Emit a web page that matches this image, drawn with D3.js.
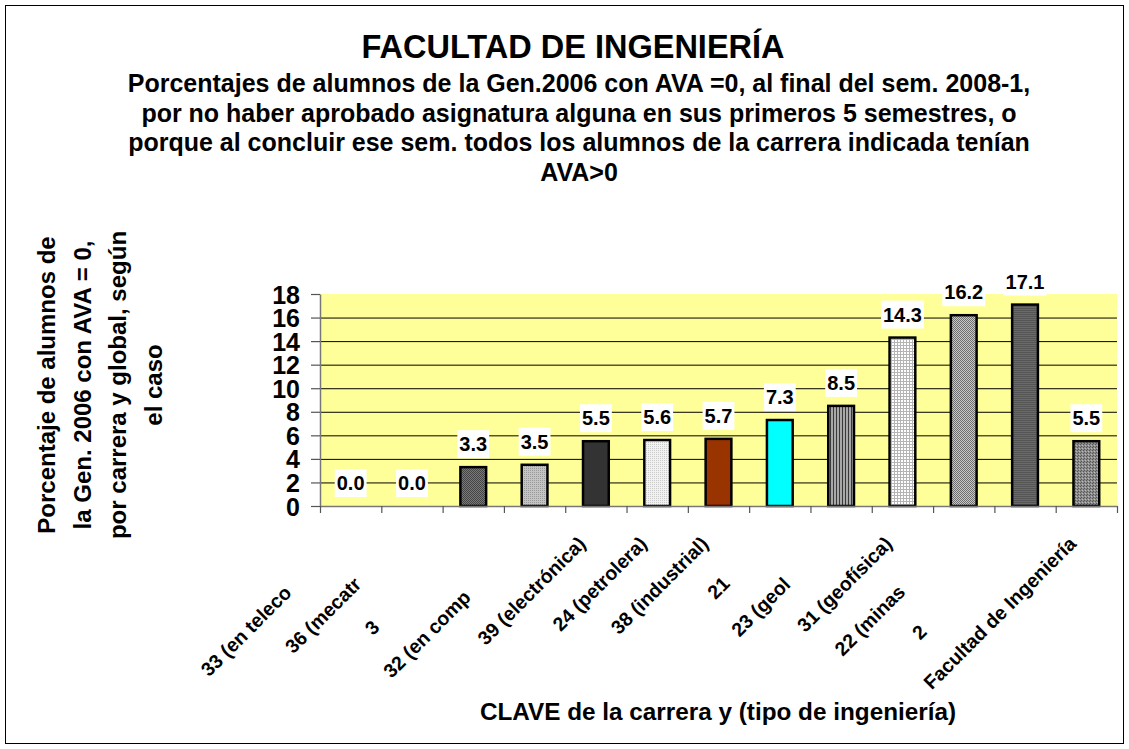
<!DOCTYPE html>
<html>
<head>
<meta charset="utf-8">
<script src="https://cdn.jsdelivr.net/npm/d3@7/dist/d3.min.js"></script>
<style>
body { margin: 0; background: #fff; }
svg { display: block; }
text { font-family: "Liberation Sans", Arial, sans-serif; font-weight: bold; fill: #000; }
</style>
</head>
<body>
<div id="chart"></div>
<script>
// full category labels (Excel clipped most of them, "shown" is what is visible)
var labels = ["33 (en telecomunic.)", "36 (mecatrónica)", "35 (mecánica)", "32 (en computación)",
  "39 (electrónica)", "24 (petrolera)", "38 (industrial)", "21 (civil)", "23 (geológica)",
  "31 (geofísica)", "22 (minas y met.)", "25 (geodésica)", "Facultad de Ingeniería"];
var shown = ["33 (en teleco", "36 (mecatr", "3", "32 (en comp",
  "39 (electrónica)", "24 (petrolera)", "38 (industrial)", "21", "23 (geol",
  "31 (geofísica)", "22 (minas", "2", "Facultad de Ingeniería"];
var values = [0.0, 0.0, 3.3, 3.5, 5.5, 5.6, 5.7, 7.3, 8.5, 14.3, 16.2, 17.1, 5.5];
var yTicks = [0, 2, 4, 6, 8, 10, 12, 14, 16, 18];
var titleLines = ["Porcentajes de alumnos de la Gen.2006 con AVA =0, al final del sem. 2008-1,",
  "por no haber aprobado asignatura alguna en sus primeros 5 semestres, o",
  "porque al concluir ese sem. todos los alumnos de la carrera indicada tenían",
  "AVA>0"];
var yTitleLines = ["Porcentaje de alumnos de", "la Gen. 2006 con AVA = 0,",
  "por carrera y global, según", "el caso"];

var barFills = ["#fff", "#fff", "url(#pDark)", "url(#pLight)", "#333333", "url(#pVLight)",
  "#993300", "#00ffff", "url(#pVert)", "url(#pGrid)", "url(#pCheck)", "url(#pHoriz)", "url(#pDots)"];

var W = 1129, H = 749;
var plot = {left: 320, right: 1117, top: 294, bottom: 506};

var svg = d3.select("#chart").append("svg")
  .attr("width", W).attr("height", H);

// patterns
var defs = svg.append("defs");
function pat(id, w, h, bg, cells) {
  var p = defs.append("pattern").attr("id", id)
    .attr("patternUnits", "userSpaceOnUse").attr("width", w).attr("height", h);
  p.append("rect").attr("width", w).attr("height", h).attr("fill", bg);
  cells.forEach(function(c) {
    p.append("rect").attr("x", c[0]).attr("y", c[1]).attr("width", c[2]).attr("height", c[3]).attr("fill", c[4]);
  });
}
pat("pDark", 2, 2, "#7a7a7a", [[0, 0, 1, 1, "#444"], [1, 1, 1, 1, "#444"]]);
pat("pLight", 2, 2, "#c4c4c4", [[0, 0, 1, 1, "#999"]]);
pat("pVLight", 2, 2, "#f2f2f2", [[0, 0, 1, 1, "#c8c8c8"]]);
pat("pVert", 3, 3, "#a8a8a8", [[2, 0, 1, 3, "#3a3a3a"]]);
pat("pGrid", 3, 3, "#ffffff", [[0, 0, 3, 1, "#b4b4b4"], [0, 0, 1, 3, "#b4b4b4"]]);
pat("pCheck", 2, 2, "#c8c8c8", [[0, 0, 1, 1, "#6e6e6e"], [1, 1, 1, 1, "#6e6e6e"]]);
pat("pHoriz", 2, 2, "#6a6a6a", [[0, 0, 2, 1, "#555"]]);
pat("pDots", 3, 3, "#8c8c8c", [[0, 0, 1, 1, "#555"], [1, 2, 1, 1, "#555"], [2, 1, 1, 1, "#bbb"]]);

// outer frame
svg.append("rect").attr("x", 5.5).attr("y", 5.5).attr("width", W - 11).attr("height", H - 11)
  .attr("fill", "none").attr("stroke", "#000").attr("stroke-width", 1);

var x = d3.scaleBand().domain(d3.range(values.length)).range([plot.left, plot.right]);
var xb = d3.scaleLinear().domain([0, values.length]).range([plot.left, plot.right]);
var y = d3.scaleLinear().domain([0, 18]).range([plot.bottom, plot.top]);

// plot area
svg.append("rect").attr("x", plot.left).attr("y", plot.top)
  .attr("width", plot.right - plot.left).attr("height", plot.bottom - plot.top)
  .attr("fill", "#ffff99");

// gridlines
svg.append("g").attr("transform", "translate(" + plot.left + ",0)")
  .call(d3.axisLeft(y).tickValues(yTicks.filter(function(d) { return d > 0 && d < 18; }))
    .tickSize(-(plot.right - plot.left)).tickFormat(""))
  .call(function(g) {
    g.select(".domain").remove();
    g.selectAll("text").remove();
    g.selectAll("line").attr("stroke", "#000").attr("stroke-width", 1);
  });

// bars
var bw = x.bandwidth() * 0.42;
svg.append("g").selectAll("rect").data(values).join("rect")
  .attr("x", function(d, i) { return x(i) + (x.bandwidth() - bw) / 2; })
  .attr("y", function(d) { return y(d); })
  .attr("width", bw)
  .attr("height", function(d) { return y(0) - y(d); })
  .attr("fill", function(d, i) { return barFills[i]; })
  .attr("stroke", "#000").attr("stroke-width", 2.5)
  .style("display", function(d) { return d > 0 ? null : "none"; });

// y axis
svg.append("g").attr("transform", "translate(" + plot.left + ",0)")
  .call(d3.axisLeft(y).tickValues(yTicks).tickSize(9).tickSizeOuter(0).tickPadding(11))
  .call(function(g) {
    g.select(".domain").attr("stroke", "#777").attr("stroke-width", 1.5);
    g.selectAll("line").attr("stroke", "#555").attr("stroke-width", 1.2);
    g.selectAll("text").style("font-size", "25px").style("font-family", "Liberation Sans, Arial, sans-serif")
      .style("font-weight", "bold").attr("fill", "#000").attr("dy", "0.36em");
  });

// x axis
svg.append("g").attr("transform", "translate(0," + plot.bottom + ")")
  .call(d3.axisBottom(xb).tickValues(d3.range(values.length + 1)).tickSize(7).tickSizeOuter(0).tickFormat(""))
  .call(function(g) {
    g.select(".domain").attr("stroke", "#777").attr("stroke-width", 1.5);
    g.selectAll("text").remove();
    g.selectAll("line").attr("stroke", "#555").attr("stroke-width", 1.2);
  });

// value labels on white boxes
var vl = svg.append("g").selectAll("g").data(values).join("g")
  .attr("transform", function(d, i) { return "translate(" + (x(i) + x.bandwidth() / 2) + "," + (y(d) - 23) + ")"; });
vl.append("rect").attr("fill", "#fff");
vl.append("text").attr("text-anchor", "middle").attr("dy", "0.36em")
  .style("font-size", "20px").text(function(d) { return d.toFixed(1); })
  .each(function() {
    var w = this.getComputedTextLength() + 4;
    d3.select(this.parentNode).select("rect")
      .attr("x", -w / 2).attr("y", -14).attr("width", w).attr("height", 28);
  });

// category labels, rotated and clipped like the original
var xl = svg.append("g").selectAll("g").data(labels).join("g")
  .attr("transform", function(d, i) { return "translate(" + (x(i) + x.bandwidth() / 2 - 9) + ",545) rotate(-45)"; });
xl.append("text").style("font-size", "19.5px").text(function(d) { return d; })
  .each(function(d, i) {
    var L = this.getComputedTextLength();
    d3.select(this).attr("x", -L).text(shown[i]);
  });

// titles
svg.append("text").attr("x", 573).attr("y", 58).attr("text-anchor", "middle")
  .style("font-size", "32.5px").text("FACULTAD DE INGENIERÍA");
svg.append("text").attr("text-anchor", "middle").style("font-size", "25px")
  .selectAll("tspan").data(titleLines).join("tspan")
  .attr("x", 579).attr("y", function(d, i) { return 92 + i * 29.7; })
  .text(function(d) { return d; });

svg.append("text").attr("x", 718).attr("y", 720).attr("text-anchor", "middle")
  .style("font-size", "24.3px").text("CLAVE de la carrera y (tipo de ingeniería)");

svg.append("text").attr("transform", "translate(55,385) rotate(-90)")
  .attr("text-anchor", "middle").style("font-size", "24px")
  .selectAll("tspan").data(yTitleLines).join("tspan")
  .attr("x", 0).attr("y", function(d, i) { return i * 35.5; })
  .text(function(d) { return d; });
</script>
</body>
</html>
